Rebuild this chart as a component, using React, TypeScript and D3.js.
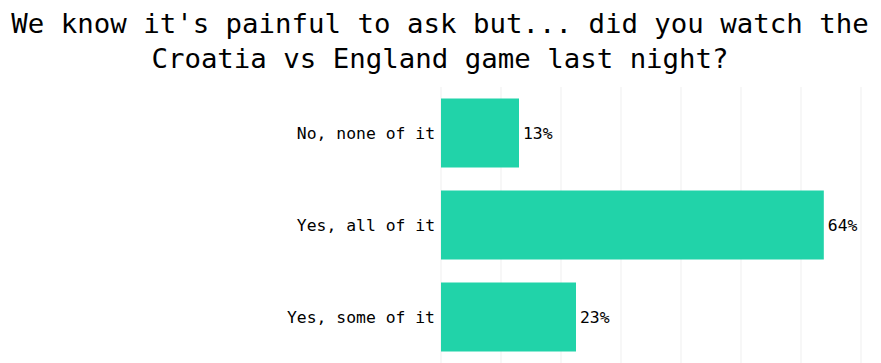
import React from "react";
import * as d3 from "d3";

const categories = ["No, none of it", "Yes, all of it", "Yes, some of it"];
const values = [13, 63.8, 22.5];
const ticks = [0, 10, 20, 30, 40, 50, 60, 70];
const titleLines = [
  "We know it's painful to ask but... did you watch the",
  "Croatia vs England game last night?",
];

export default function App() {
  const W = 881, H = 363;
  const font = "'DejaVu Sans Mono', 'Liberation Mono', monospace";
  const x = d3.scaleLinear().domain([0, 70]).range([441, 861]);
  const y = d3.scaleBand().domain(categories).range([87, 363]).paddingInner(0.25).paddingOuter(0.125);
  return (
    <svg width={W} height={H} style={{ position: "absolute", left: 0, top: 0 }}>
      <rect width={W} height={H} fill="#fff" />
      {ticks.map((t) => (
        <line key={t} x1={x(t)} x2={x(t)} y1={87} y2={H} stroke="#efefef" strokeWidth={1} />
      ))}
      {titleLines.map((l, i) => (
        <text key={i} x={440} y={33 + i * 35} textAnchor="middle" fontFamily={font} fontSize={27.4} fill="#000">
          {l}
        </text>
      ))}
      {categories.map((c, i) => {
        const yy = y(c)!;
        const bw = y.bandwidth();
        return (
          <g key={c}>
            <rect x={x(0)} y={yy} width={x(values[i]) - x(0)} height={bw} fill="#21d3a9" />
            <text x={x(0) - 6} y={yy + bw / 2} dy="0.35em" textAnchor="end" fontFamily={font} fontSize={16.4} fill="#000">
              {c}
            </text>
            <text x={x(values[i]) + 4} y={yy + bw / 2} dy="0.35em" fontFamily={font} fontSize={16.4} fill="#000">
              {Math.round(values[i])}%
            </text>
          </g>
        );
      })}
    </svg>
  );
}
